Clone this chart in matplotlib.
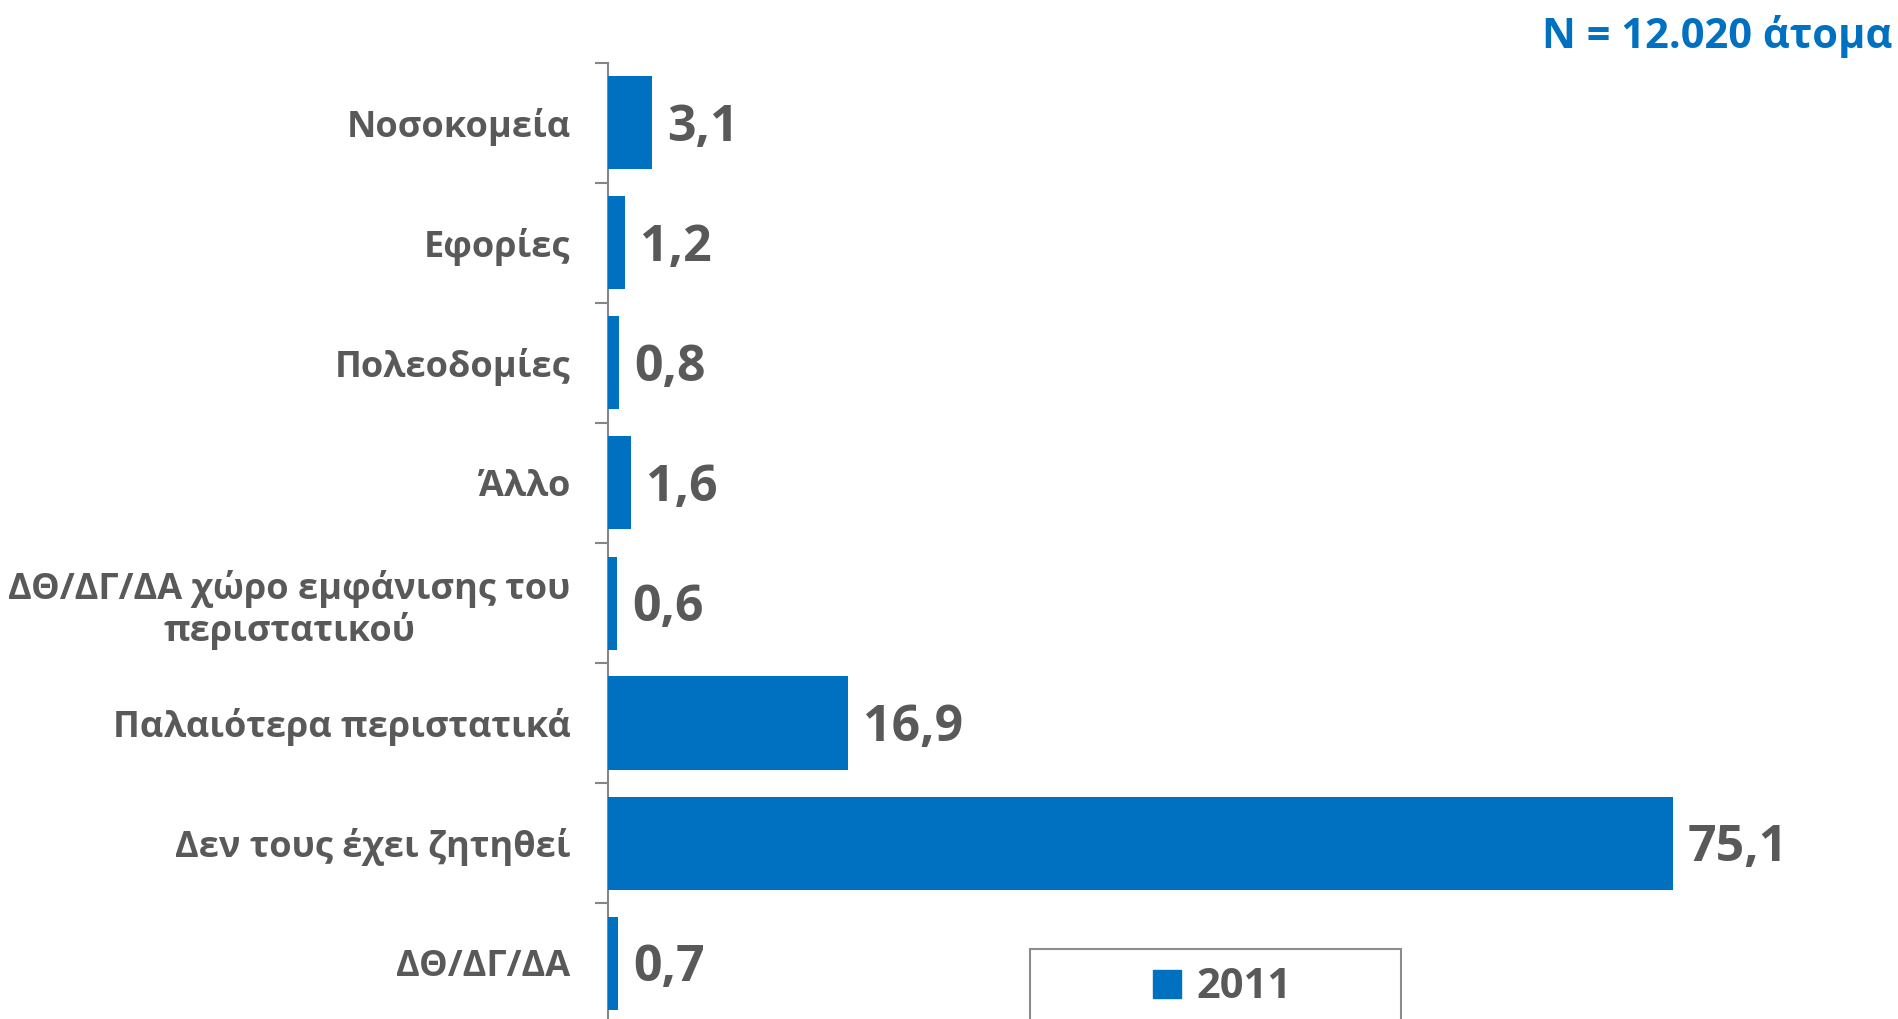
import matplotlib
matplotlib.use("Agg")
import matplotlib.pyplot as plt
from matplotlib.patches import Rectangle
from matplotlib.lines import Line2D
import numpy as np

categories = ["Νοσοκομεία", "Εφορίες", "Πολεοδομίες", "Άλλο",
              "ΔΘ/ΔΓ/ΔΑ χώρο εμφάνισης του\nπεριστατικού",
              "Παλαιότερα περιστατικά", "Δεν τους έχει ζητηθεί", "ΔΘ/ΔΓ/ΔΑ"]
values_2011 = [3.1, 1.2, 0.8, 1.6, 0.6, 16.9, 75.1, 0.7]
series_name = "2011"
note = "N = 12.020 άτομα"

BLUE = "#0070C0"
GREY_TXT = "#595959"
AX_GREY = "#868686"
FONT = "Open Sans"

plt.rcParams["font.family"] = [FONT, "DejaVu Sans"]
plt.rcParams["font.weight"] = "bold"

W, H = 1898, 1019
fig = plt.figure(figsize=(W / 100, H / 100), dpi=100)
ax = fig.add_axes([608 / W, -4 / H, (W - 608) / W, 960 / H])

y = np.arange(len(categories))
bars = ax.barh(y, values_2011, height=0.775, color=BLUE, zorder=3)
ax.set_ylim(len(categories) - 0.5, -0.5)
ax.set_xlim(0, 91.0)

for sp in ["top", "right", "bottom"]:
    ax.spines[sp].set_visible(False)
ax.spines["left"].set_color(AX_GREY)
ax.spines["left"].set_linewidth(1.5)
ax.set_xticks([])

ax.set_yticks(y)
ax.set_yticklabels(categories, fontsize=26, color=GREY_TXT, fontweight="bold",
                   multialignment="center", linespacing=1.15)
ax.set_yticks(np.arange(-0.5, len(categories), 1), minor=True)
ax.tick_params(axis="y", which="major", length=0, pad=27)
ax.tick_params(axis="y", which="minor", length=9.4, width=1.5, color=AX_GREY)

for b, v in zip(bars, values_2011):
    ax.annotate(f"{v:.1f}".replace(".", ","),
                xy=(b.get_width(), b.get_y() + b.get_height() / 2),
                xytext=(11, -3.5), textcoords="offset points",
                va="center", ha="left", fontsize=36, fontweight="bold",
                color=GREY_TXT)

fig.text(1892 / W, 1 - 36 / H, note, ha="right", va="center",
         fontsize=30, fontweight="bold", color=BLUE)

# legend frame and legend
fig.patches.append(Rectangle((1030 / W, -0.02), (1401 - 1030) / W, (1019 - 949) / H + 0.02,
                             transform=fig.transFigure, fill=False,
                             edgecolor="#8c8c8c", linewidth=1.5))
handle = Line2D([], [], marker="s", linestyle="none", markersize=20,
                markerfacecolor=BLUE, markeredgecolor=BLUE)
fig.legend([handle], [series_name], loc="center",
           bbox_to_anchor=(1219 / W, 1 - 988 / H), frameon=False,
           prop={"family": FONT, "weight": "bold", "size": 30},
           labelcolor=GREY_TXT, handletextpad=0.2, handlelength=1.0)

fig.savefig("out.png", dpi=100)
